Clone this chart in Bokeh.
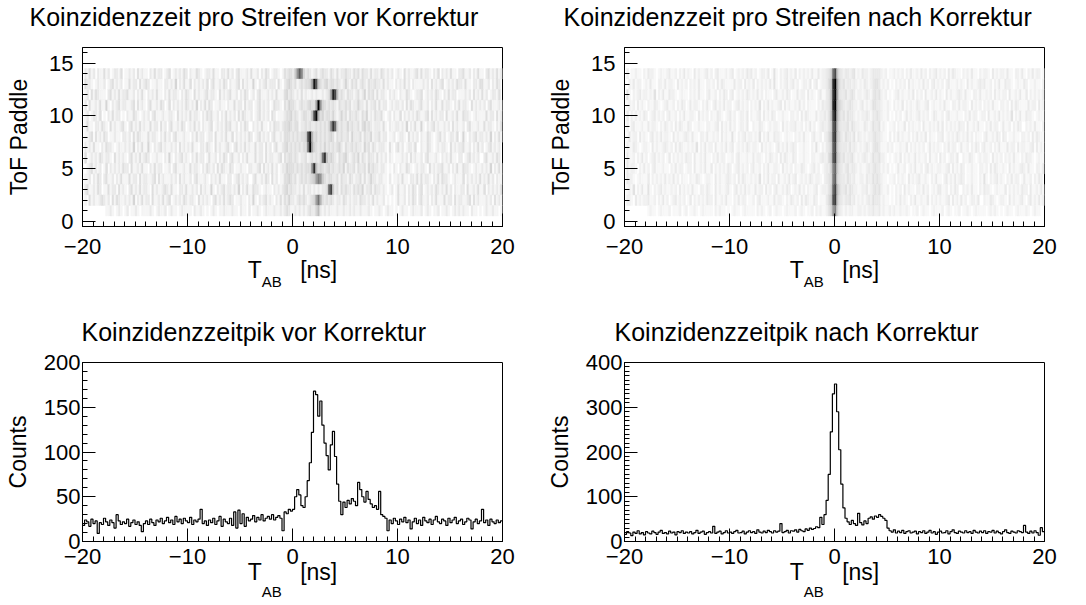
import numpy as np
from bokeh.embed import file_html
from bokeh.layouts import gridplot
from bokeh.models import ColumnDataSource, FixedTicker, LinearAxis, Range1d, Title
from bokeh.plotting import figure
from bokeh.resources import INLINE
from bokeh.transform import linear_cmap

FONT = "Liberation Sans"
MINUS = "\u2212"
NBSP = "\u00a0"

# Time axis binning of all histograms (ns)
T_MIN, T_MAX, N_BINS = -20.0, 20.0, 200
T_TICKS = [-20, -10, 0, 10, 20]
T_TICK_LABELS = {-20: MINUS + "20", -10: MINUS + "10", 0: "0", 10: "10", 20: "20"}

# Coincidence-time counts per 0.2 ns bin (sum over all paddles)
counts_vor = [
    18, 24, 22, 17, 25, 20, 23, 9, 21, 19,
    26, 22, 18, 24, 21, 15, 30, 23, 19, 22,
    20, 25, 17, 21, 24, 19, 22, 18, 11, 20,
    23, 19, 25, 21, 18, 24, 22, 26, 20, 23,
    27, 21, 24, 19, 28, 22, 25, 20, 26, 23,
    21, 27, 19, 24, 22, 25, 36, 20, 23, 18,
    24, 21, 26, 19, 23, 28, 17, 25, 22, 20,
    26, 18, 33, 15, 35, 20, 31, 17, 27, 23,
    25, 29, 22, 27, 24, 30, 23, 26, 28, 25,
    30, 24, 27, 29, 26, 12, 33, 31, 36, 34,
    36, 50, 58, 52, 40, 38, 50, 68, 88, 122,
    168, 164, 140, 157, 130, 110, 96, 80, 108, 123,
    95, 64, 45, 30, 44, 38, 46, 42, 48, 45,
    40, 66, 58, 50, 44, 56, 47, 42, 38, 40,
    36, 56, 30, 28, 26, 12, 24, 20, 26, 23,
    19, 25, 22, 27, 21, 24, 14, 22, 26, 20,
    24, 18, 27, 23, 21, 25, 19, 24, 28, 22,
    20, 25, 23, 18, 26, 21, 24, 27, 20, 23,
    25, 19, 22, 26, 24, 14, 22, 25, 20, 23,
    36, 21, 24, 18, 25, 22, 20, 24, 21, 23,
]

counts_nach = [
    16, 22, 19, 13, 21, 18, 24, 17, 20, 15,
    22, 19, 17, 23, 20, 16, 21, 25, 18, 20,
    17, 23, 19, 21, 15, 22, 20, 24, 18, 21,
    19, 22, 17, 20, 25, 18, 21, 23, 16, 20,
    22, 19, 34, 18, 21, 23, 17, 20, 24, 19,
    21, 18, 22, 25, 19, 20, 23, 17, 21, 24,
    20, 22, 18, 26, 21, 19, 23, 20, 25, 22,
    19, 24, 21, 23, 40, 20, 22, 25, 19, 24,
    23, 26, 21, 27, 24, 22, 28, 25, 30, 27,
    29, 33, 31, 54, 38, 60, 92, 150, 245, 330,
    352, 290, 205, 128, 75, 52, 44, 38, 47, 40,
    36, 63, 42, 37, 46, 40, 52, 55, 50, 57,
    54, 60, 56, 52, 47, 30, 24, 21, 26, 19,
    23, 20, 25, 18, 22, 24, 19, 21, 23, 17,
    22, 20, 24, 18, 21, 25, 19, 22, 16, 21,
    23, 19, 20, 24, 17, 22, 26, 20, 18, 23,
    21, 19, 24, 20, 22, 18, 25, 21, 19, 23,
    20, 24, 18, 22, 21, 25, 19, 23, 20, 17,
    22, 26, 20, 18, 23, 21, 19, 24, 22, 20,
    36, 21, 18, 23, 19, 24, 20, 14, 31, 22,
]

# Counts per paddle and 0.2 ns bin, one base-36 digit per bin (0-9, a=10 ... z=35)
map_vor = {
    14: ["0213120211", "3120122130", "1121203121", "1021312201", "2301212132",
         "0211321012", "2131102213", "1202311121", "3112021320", "1221013233",
         "25afb42321", "2312322132", "1312232213", "2313221312", "2132121201",
         "2103121123", "1312210213", "0212131102", "2311202131", "1023121312"],
    13: ["0322101211", "2012312120", "1131220312", "3201121102", "2121402131",
         "1302121213", "0231121320", "2112303121", "1410212312", "2203102343",
         "2312323349", "mg53234233", "2321242132", "3123213223", "2213121102",
         "1213120211", "1121203121", "2301212132", "2131102213", "3112021320"],
    12: ["0120313211", "1023121312", "2311202131", "0212131102", "1312210213",
         "2103121123", "1221031212", "3112021320", "1202311121", "2131113423",
         "2121312112", "121121239l", "h623213221", "2312413231", "3122102121",
         "0211321012", "2301212132", "1021312201", "1121203121", "3120122130"],
    11: ["0203112131", "1410212312", "2112303121", "0231121320", "1302121213",
         "2121402131", "3201121102", "1131220312", "2012312120", "1322103243",
         "3212322343", "39oa432323", "2132232312", "2422131223", "1312201212",
         "2120313211", "2311202131", "1312210213", "1221031212", "1202311121"],
    10: ["0120122130", "1021312201", "0211321012", "1202311121", "1221031212",
         "1312210213", "2311202131", "2120313211", "2012312120", "3201112334",
         "2321233226", "hn73423324", "2124231322", "3213241213", "2231012021",
         "1302121213", "2112303121", "2203112131", "1322101211", "1131220312"],
    9: ["0131102213", "2103121123", "1023121312", "1131220312", "0231121320",
        "1213120211", "2301212132", "3112021320", "0212131102", "1322123343",
        "2331223232", "23232324bj", "e423224232", "2313423212", "2213102112",
        "2121402131", "1410212312", "1121203121", "1202311121", "1312210213"],
    8: ["0112303121", "3201121102", "2120313211", "1312210213", "1202311121",
        "1021312201", "2203112131", "1302121213", "2012312120", "2311213332",
        "3232334gm7", "3423232343", "1323223142", "2231322412", "2312201120",
        "1221031212", "0211321012", "3120122130", "1410212312", "2121402131"],
    7: ["0212131102", "1322101211", "2121402131", "1410212312", "1121203121",
        "2131102213", "2103121123", "1023121312", "1131220312", "0231123423",
        "2323233co8", "4323242323", "2342132232", "3221423132", "1222103102",
        "3120122130", "0211321012", "1221031212", "2311202131", "2012312120"],
    6: ["0301212132", "1221031212", "1023121312", "3201121102", "1410212312",
        "1021312201", "3112021320", "2311202131", "1131220312", "2112303233",
        "2321223123", "2324dj6343", "2132342123", "2413213221", "3121202101",
        "1121203121", "1202311121", "0212131102", "2012312120", "0231121320"],
    5: ["0012312120", "1302121213", "2203112131", "1021312201", "1202311121",
        "1312210213", "2120313211", "3201121102", "2112303121", "3120122433",
        "323232333b", "k634323423", "2232413223", "1322314232", "2122101021",
        "0211321012", "1221031212", "2311202131", "1322101211", "2121402131"],
    4: ["0112021320", "2311202131", "1131220312", "2112303121", "1121203121",
        "1202311121", "0212131102", "2012312120", "0231121320", "3120113343",
        "2312323234", "59ca532332", "2313221321", "2231312422", "1221102011",
        "2131102213", "1312210213", "1322101211", "1302121213", "1213120211"],
    3: ["0231121320", "1131220312", "1023121312", "2103121123", "2131102213",
        "1121203121", "1410212312", "2121402131", "1322101211", "0212123423",
        "2212131221", "2121223ei5", "2313232213", "2324122313", "2212101201",
        "3112021320", "2301212132", "1213120211", "2203112131", "1302121213"],
    2: ["0103121123", "2120313211", "2121402131", "2203112131", "2301212132",
        "1221031212", "1023121312", "3201121102", "1410212312", "1021313242",
        "2123232123", "49d7323232", "1221321212", "2132212131", "2112010101",
        "3112021320", "2311202131", "1131220312", "2112303121", "1121203121"],
    1: ["0000000000", "0112101210", "1201121011", "1121012112", "0121101211",
        "1102112101", "0121011211", "1211021102", "0112101211", "1211212321",
        "1212121232", "2462121211", "1211211212", "1121112101", "1210121101",
        "0121101211", "1201210112", "0112101212", "1211021101", "0121121101"],
}

map_nach = {
    14: ["0201121102", "1322101211", "2311202131", "2103121123", "1202311121",
         "2301212132", "3120122130", "1410212312", "1302121213", "113122346k",
         "p843233234", "1213221233", "3321201121", "2120213112", "1312021231",
         "2120313211", "0212131102", "1221031212", "2131102213", "1021312201"],
    13: ["0021312201", "2131102213", "1221031212", "0212131102", "2120313211",
         "1131220312", "1302121213", "1410212312", "3120122130", "230122357t",
         "zb53423323", "2121321234", "4312120102", "1212031211", "2131202312",
         "1202311121", "2103121123", "2311202131", "1322101211", "3201121102"],
    12: ["0410212312", "2121402131", "1322101211", "0212131102", "3112021320",
         "2301212132", "1213120211", "0231121320", "1131220312", "102311348s",
         "yc43342343", "1221232134", "3421201012", "3121121302", "1203112131",
         "2103121123", "2131102213", "1121203121", "2203112131", "1302121213"],
    11: ["0121203121", "0211321012", "3112021320", "1312210213", "1023121312",
         "2012312120", "2121402131", "2112303121", "1213120211", "102132347u",
         "za64323432", "2123121244", "3321121021", "2130212113", "2112301211",
         "2131102213", "1221031212", "0212131102", "2120313211", "1131220312"],
    10: ["0302121213", "2012312120", "2311202131", "1221031212", "0211321012",
         "3120122130", "2112303121", "3201121102", "2120313211", "131223248q",
         "wa53424332", "1212232133", "4321120102", "1201312112", "3121201321",
         "1202311121", "1021312201", "2203112131", "2121402131", "1322101211"],
    9: ["0202311121", "1312210213", "2120313211", "3201121102", "2112303121",
        "3120122130", "0211321012", "1221031212", "2311202131", "201232246n",
        "r943334243", "2211321243", "3412101120", "2113021211", "2031121213",
        "1302121213", "2203112131", "1021312201", "3112021320", "0212131102"],
    8: ["0131220312", "1023121312", "2103121123", "2131102213", "1121203121",
        "1410212312", "2121402131", "1322101211", "0212131102", "311202357o",
        "s853243324", "1321212234", "3321102021", "3121120213", "1213021102",
        "2301212132", "1213120211", "0231121320", "3201121102", "2120313211"],
    7: ["0211321012", "2103121123", "2120313211", "2121402131", "2203112131",
        "2301212132", "1221031212", "1023121312", "3201121102", "141021346m",
        "q743332423", "2121232134", "4311121201", "1211302121", "2120131212",
        "1021312201", "3112021320", "2311202131", "1131220312", "2112303121"],
    6: ["0311202131", "2012312120", "1302121213", "2203112131", "1021312201",
        "1202311121", "1312210213", "2120313211", "3201121102", "211232257n",
        "r853423342", "1212321243", "3422101012", "1302121131", "2112031120",
        "3120122130", "0211321012", "1221031212", "0212131102", "1322101211"],
    5: ["0312210213", "1202311121", "1021312201", "2203112131", "1302121213",
        "2012312120", "2311202131", "1221031212", "0211321012", "312012336h",
        "l743234233", "2121123234", "3312120101", "3112012131", "1202312112",
        "2112303121", "3201121102", "2120313211", "2103121123", "2131102213"],
    4: ["0322101211", "1302121213", "1213120211", "0211321012", "2103121123",
        "2120313211", "2121402131", "2203112131", "2301212132", "122102345i",
        "m643324323", "1122132243", "4321101120", "2121031212", "3112102131",
        "1023121312", "3201121102", "1410212312", "1021312201", "3112021320"],
    3: ["0121402131", "1410212312", "1121203121", "2131102213", "2103121123",
        "1023121312", "1131220312", "0231121320", "1213120211", "230122246l",
        "q953342432", "2112231234", "3421120102", "1203121102", "2131201213",
        "3112021320", "0212131102", "1322101211", "1302121213", "2203112131"],
    2: ["0221031212", "2311202131", "2012312120", "1302121213", "2203112131",
        "1021312201", "1202311121", "1312210213", "2120313211", "320111357o",
        "r843233423", "1212123243", "3312110102", "1312102131", "1211302121",
        "2112303121", "3120122130", "0211321012", "2103121123", "1023121312"],
    1: ["0000000000", "0121101211", "1201112012", "0112101211", "1102121101",
        "0121101211", "1102121012", "0121101211", "1201210112", "021211246e",
        "h632121221", "1221212232", "2312112121", "1211210112", "0121101211",
        "1201210112", "0112101211", "1101212101", "0121101211", "1210121100"],
}

titles = [
    "Koinzidenzzeit pro Streifen vor Korrektur",
    "Koinzidenzzeit pro Streifen nach Korrektur",
    "Koinzidenzzeitpik vor Korrektur",
    "Koinzidenzzeitpik nach Korrektur",
]

paddle_ticks = [0, 5, 10, 15]
counts_ticks_vor = [0, 50, 100, 150, 200]
counts_ticks_nach = [0, 100, 200, 300, 400]

# white (empty) to black (maximum)
GRAYS = ["#%02x%02x%02x" % (g, g, g) for g in range(255, -1, -1)]

EDGES = np.linspace(T_MIN, T_MAX, N_BINS + 1)


def bare_axis(**kw):
    # an axis without ticks, tick labels or line; used for spacing and extra label text
    return LinearAxis(ticker=FixedTicker(ticks=[], minor_ticks=[]),
                      axis_line_color=None, major_tick_line_color=None,
                      minor_tick_line_color=None, major_tick_in=0, major_tick_out=0,
                      minor_tick_in=0, minor_tick_out=0, major_label_standoff=0,
                      major_label_text_font_size="0px", **kw)


def base_figure(height, y_range, borders, title, title_offset):
    left, right, top, bottom = borders
    p = figure(width=543, height=height, x_range=Range1d(T_MIN, T_MAX),
               y_range=Range1d(*y_range), output_backend="svg",
               toolbar_location=None, tools="",
               min_border_left=left, min_border_right=right,
               min_border_top=top, min_border_bottom=bottom)
    xa = p.below[0]
    ya = p.left[0]
    p.title.text = ""
    # gap between frame and title
    p.add_layout(bare_axis(axis_label=NBSP, axis_label_text_font_size="2px",
                           axis_label_standoff=12), "above")
    p.add_layout(Title(text=title, align="left", offset=title_offset, standoff=0,
                       vertical_align="bottom", text_font=FONT, text_font_size="25px",
                       text_font_style="normal", text_color="black"), "above")
    p.background_fill_color = "white"
    p.border_fill_color = "white"
    p.outline_line_color = "black"
    p.outline_line_width = 1
    p.xgrid.visible = False
    p.ygrid.visible = False
    return p, xa, ya


def style_axes(xa, ya, y_ticks, y_minor, x_standoff, y_standoff, y_title, y_title_standoff):
    xa.ticker = FixedTicker(ticks=T_TICKS, minor_ticks=list(range(-20, 21)))
    xa.major_label_overrides = T_TICK_LABELS
    ya.ticker = FixedTicker(ticks=y_ticks, minor_ticks=y_minor)
    for ax in (xa, ya):
        ax.axis_line_color = "black"
        ax.major_tick_line_color = "black"
        ax.minor_tick_line_color = "black"
        ax.major_tick_in = 13
        ax.major_tick_out = 0
        ax.minor_tick_in = 5
        ax.minor_tick_out = 0
        ax.major_label_text_font = FONT
        ax.major_label_text_font_size = "22px"
        ax.major_label_text_color = "black"
    xa.major_label_standoff = x_standoff
    ya.major_label_standoff = y_standoff
    ya.axis_label = y_title
    ya.axis_label_text_font = FONT
    ya.axis_label_text_font_size = "23px"
    ya.axis_label_text_font_style = "normal"
    ya.axis_label_text_color = "black"
    ya.axis_label_standoff = y_title_standoff


def time_title(p, xa, standoff, sub_standoff):
    # "T_AB  [ns]": main text on the x axis, lowered subscript on a bare axis below it
    xa.axis_label = "T" + NBSP * 6 + "[ns]"
    xa.axis_label_text_font = FONT
    xa.axis_label_text_font_size = "23px"
    xa.axis_label_text_font_style = "normal"
    xa.axis_label_text_color = "black"
    xa.axis_label_standoff = standoff
    p.add_layout(bare_axis(axis_label="AB" + NBSP * 10,
                           axis_label_text_font=FONT, axis_label_text_font_size="15px",
                           axis_label_text_font_style="normal",
                           axis_label_text_color="black",
                           axis_label_standoff=sub_standoff), "below")


def map_figure(rows, title, title_offset, left, right):
    p, xa, ya = base_figure(302, (-0.5, 16.5), (left, right, 47, 76), title, title_offset)
    lft, rgt, bot, top, val = [], [], [], [], []
    for paddle, chunks in rows.items():
        cells = "".join(chunks)
        if len(cells) != N_BINS:
            raise ValueError("paddle %d has %d bins" % (paddle, len(cells)))
        for i, ch in enumerate(cells):
            v = int(ch, 36)
            if v == 0:
                continue
            lft.append(EDGES[i])
            rgt.append(EDGES[i + 1])
            bot.append(paddle - 0.5)
            top.append(paddle + 0.5)
            val.append(v)
    src = ColumnDataSource(dict(left=lft, right=rgt, bottom=bot, top=top, v=val))
    cmap = linear_cmap("v", GRAYS, low=0, high=max(val))
    p.quad(left="left", right="right", bottom="bottom", top="top", source=src,
           fill_color=cmap, line_color=cmap, line_width=0.4)
    style_axes(xa, ya, paddle_ticks, list(range(0, 17)), 12, 9, "ToF Paddle", 14)
    time_title(p, xa, 0, -13)
    return p


def hist_figure(counts, y_ticks, title, title_offset, left, right):
    p, xa, ya = base_figure(303, (0, y_ticks[-1]), (left, right, 60, 64), title, title_offset)
    ys = list(counts) + [counts[-1]]
    p.step(x=EDGES, y=ys, mode="after", line_color="black", line_width=1.2)
    style_axes(xa, ya, y_ticks, list(range(0, y_ticks[-1] + 1, 10)), 7, 2, "Counts", 10)
    time_title(p, xa, -8, -5)
    return p


p1 = map_figure(map_vor, titles[0], -53, 82, 41)
p2 = map_figure(map_nach, titles[1], -61, 81, 42)
p3 = hist_figure(counts_vor, counts_ticks_vor, titles[2], -1, 82, 41)
p4 = hist_figure(counts_nach, counts_ticks_nach, titles[3], -10, 81, 42)

grid = gridplot([[p1, p2], [p3, p4]], toolbar_location=None)

open("out.html", "w").write(file_html(grid, INLINE))
